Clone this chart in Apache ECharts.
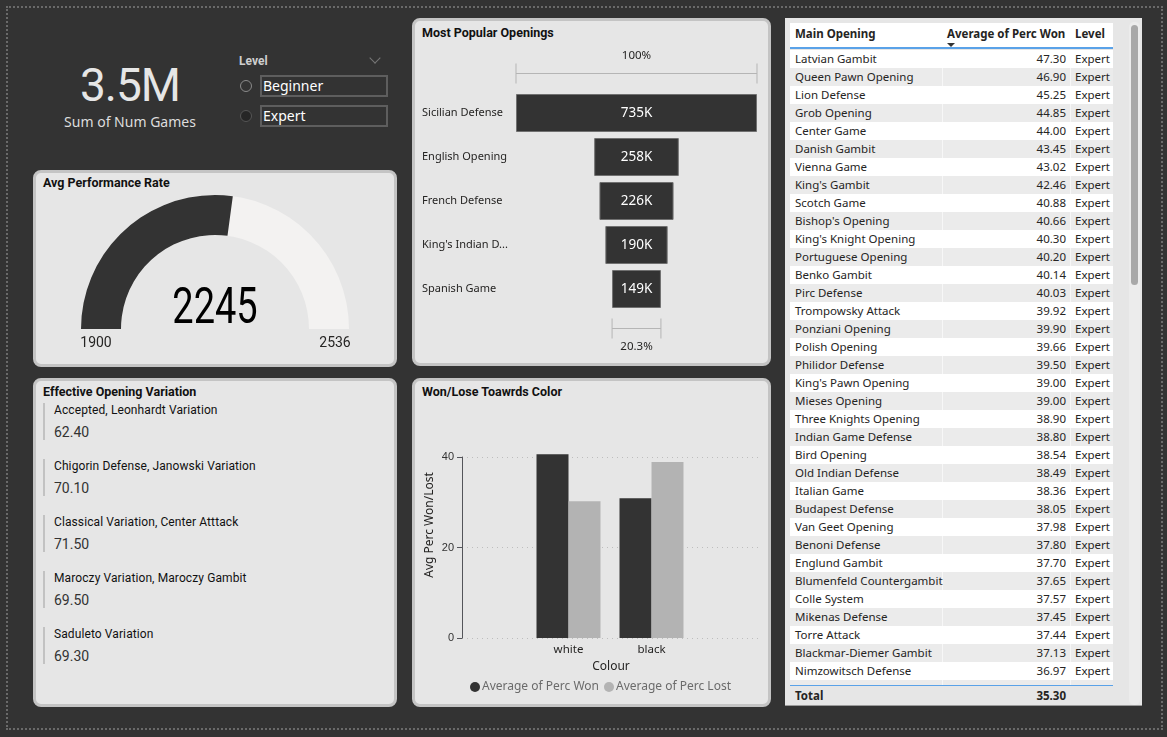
<!DOCTYPE html>
<html>
<head>
<meta charset="utf-8">
<title>Chess Openings Dashboard</title>
<script src="https://cdn.jsdelivr.net/npm/echarts@6/dist/echarts.min.js"></script>
<style>
  * { box-sizing: border-box; }
  body { margin: 0; width: 1167px; height: 737px; background: #333; position: relative; overflow: hidden; font-family: Roboto, "Noto Sans", sans-serif; }
  .abs { position: absolute; }
  .frame { left: 6px; top: 6px; width: 1157px; height: 724px; border: 2px dotted #6a6a6a; }
  .panel { background: #e6e6e6; border: 3px solid #c4c4c4; border-radius: 8px; }
  .title { font-weight: 700; font-size: 12.5px; color: #111; white-space: nowrap; }
  .kpi { left: 50px; width: 160px; text-align: center; color: #e6e6e6; }
  .radio { width: 12px; height: 12px; border-radius: 50%; border: 1px solid #8a8a8a; }
  .box { left: 260px; width: 128px; height: 22px; border: 2px solid #5e5e5e; color: #fff; font: 14px "Noto Sans", sans-serif; line-height: 18px; padding-left: 1px; }
  .varBar { left: 43px; width: 2px; height: 37px; background: #c2c2c2; }
  .varName { left: 54px; font-size: 12px; font-weight: 400; color: #111; white-space: nowrap; letter-spacing: 0.1px; }
  .varVal { left: 54px; font-size: 14px; color: #333; }
  .tbl { font: 11.5px "Noto Sans", sans-serif; color: #252423; }
  .row { position: absolute; left: 0; width: 323px; height: 18px; line-height: 18px; }
  .row span { position: absolute; top: 0; white-space: nowrap; }
  .c1 { left: 5px; }
  .c2 { right: 47px; text-align: right; }
  .c3 { left: 285px; }
  .sep { position: absolute; top: 0; width: 1px; height: 100%; background: rgba(255,255,255,0.6); }
</style>
</head>
<body>
<div class="abs frame"></div>

<!-- KPI + slicer -->
<div class="abs kpi" id="kpiValue" style="top:60px;font-size:46px;line-height:50px;letter-spacing:-1px;"></div>
<div class="abs kpi" style="top:113px;font-size:14px;line-height:18px;color:#ddd;font-family:'Noto Sans',sans-serif;">Sum of Num Games</div>
<div class="abs" style="left:239px;top:54px;font-size:12px;font-weight:700;color:#cfcfcf;">Level</div>
<div class="abs" style="left:371px;top:54px;width:8px;height:8px;border-right:1px solid #777;border-bottom:1px solid #777;transform:rotate(45deg);"></div>
<div class="abs radio" style="left:240px;top:80px;"></div>
<div class="abs radio" style="left:240px;top:110px;background:#262626;border-color:#555;"></div>
<div class="abs box" id="lvl0" style="top:75px;"></div>
<div class="abs box" id="lvl1" style="top:105px;"></div>

<!-- panels -->
<div class="abs panel" style="left:33px;top:170px;width:364px;height:197px;"></div>
<div class="abs panel" style="left:412px;top:18px;width:359px;height:348px;"></div>
<div class="abs panel" style="left:33px;top:378px;width:364px;height:329px;"></div>
<div class="abs panel" style="left:412px;top:378px;width:359px;height:329px;"></div>

<div class="abs title" style="left:43px;top:175px;">Avg Performance Rate</div>
<div class="abs title" style="left:422px;top:25px;">Most Popular Openings</div>
<div class="abs title" style="left:43px;top:384px;">Effective Opening Variation</div>
<div class="abs title" style="left:422px;top:384px;">Won/Lose Toawrds Color</div>

<div class="abs" id="gauge" style="left:33px;top:170px;width:364px;height:197px;"></div>
<div class="abs" id="funnel" style="left:412px;top:18px;width:359px;height:348px;"></div>
<div class="abs" id="bars" style="left:412px;top:378px;width:359px;height:329px;"></div>
<div id="variations"></div>

<!-- table -->
<div class="abs tbl" style="left:785px;top:18px;width:357px;height:688px;background:#e6e6e6;border-bottom:1px solid #9a9a9a;">
  <div class="abs" style="left:5px;top:5px;width:323px;height:26px;background:#fff;border-bottom:2px solid #5aa2e8;font-weight:700;">
    <span class="abs" style="left:5px;top:3px;">Main Opening</span>
    <span class="abs" style="left:157px;top:3px;">Average of Perc Won</span>
    <span class="abs" style="left:157px;top:20px;width:0;height:0;border-left:4px solid transparent;border-right:4px solid transparent;border-top:4px solid #333;"></span>
    <span class="abs" style="left:285px;top:3px;">Level</span>
  </div>
  <div class="abs" id="tbody" style="left:5px;top:32px;width:323px;height:635px;overflow:hidden;"></div>
  <div class="abs" style="left:5px;top:667px;width:323px;height:1px;background:#5aa2e8;"></div>
  <div class="abs" style="left:5px;top:669px;width:323px;height:18px;line-height:18px;font-weight:700;">
    <span class="abs" style="left:5px;">Total</span>
    <span class="abs" id="tTotal" style="right:47px;"></span>
  </div>
  <div class="abs" style="left:344px;top:4px;width:11px;height:683px;background:#ececec;border-radius:5px;"></div>
  <div class="abs" style="left:346px;top:7px;width:7px;height:260px;background:#a8a8a8;border-radius:4px;"></div>
</div>

<script>
// NOTE - data
const totalGames = '3.5M'
const levels = ['Beginner', 'Expert']

const perfMin = 1900
const perfMax = 2536
const perfValue = 2245

const openingNames = ['Sicilian Defense', 'English Opening', 'French Defense', "King's Indian Defense", 'Spanish Game']
const openingGames = [735000, 258000, 226000, 190000, 149000]

const variationNames = ['Accepted, Leonhardt Variation', 'Chigorin Defense, Janowski Variation', 'Classical Variation, Center Atttack', 'Maroczy Variation, Maroczy Gambit', 'Saduleto Variation']
const variationValues = [62.40, 70.10, 71.50, 69.50, 69.30]

const colours = ['white', 'black']
const percWon = [40.6, 30.9]
const percLost = [30.2, 38.9]

const tableOpenings = ['Latvian Gambit', 'Queen Pawn Opening', 'Lion Defense', 'Grob Opening', 'Center Game', 'Danish Gambit',
  'Vienna Game', "King's Gambit", 'Scotch Game', "Bishop's Opening", "King's Knight Opening", 'Portuguese Opening',
  'Benko Gambit', 'Pirc Defense', 'Trompowsky Attack', 'Ponziani Opening', 'Polish Opening', 'Philidor Defense',
  "King's Pawn Opening", 'Mieses Opening', 'Three Knights Opening', 'Indian Game Defense', 'Bird Opening',
  'Old Indian Defense', 'Italian Game', 'Budapest Defense', 'Van Geet Opening', 'Benoni Defense', 'Englund Gambit',
  'Blumenfeld Countergambit', 'Colle System', 'Mikenas Defense', 'Torre Attack', 'Blackmar-Diemer Gambit',
  'Nimzowitsch Defense', 'Clemenz Opening']
const tableWon = [47.30, 46.90, 45.25, 44.85, 44.00, 43.45, 43.02, 42.46, 40.88, 40.66, 40.30, 40.20, 40.14, 40.03,
  39.92, 39.90, 39.66, 39.50, 39.00, 39.00, 38.90, 38.80, 38.54, 38.49, 38.36, 38.05, 37.98, 37.80, 37.70, 37.65,
  37.57, 37.45, 37.44, 37.13, 36.97, 36.60]
const tableTotal = 35.30

// NOTE - KPI, slicer, list, table
document.querySelector('#kpiValue').innerHTML = totalGames
document.querySelector('#lvl0').innerHTML = levels[0]
document.querySelector('#lvl1').innerHTML = levels[1]

const varBox = document.querySelector('#variations')
variationNames.forEach((name, i) => {
  const y = 403 + i * 56
  varBox.innerHTML += `<div class="abs varBar" style="top:${y}px"></div>
    <div class="abs varName" style="top:${y}px">${name}</div>
    <div class="abs varVal" style="top:${y + 21}px">${variationValues[i].toFixed(2)}</div>`
})

const tbody = document.querySelector('#tbody')
tableOpenings.forEach((name, i) => {
  const bg = i % 2 === 0 ? '#ffffff' : '#ebebeb'
  tbody.innerHTML += `<div class="row" style="top:${i * 18}px;background:${bg}">
    <span class="sep" style="left:152px"></span><span class="sep" style="left:280px"></span>
    <span class="c1">${name}</span><span class="c2">${tableWon[i].toFixed(2)}</span><span class="c3">Expert</span></div>`
})
document.querySelector('#tTotal').innerHTML = tableTotal.toFixed(2)

// NOTE - gauge
const renderGauge = () => {
  const myChart = echarts.init(document.querySelector('#gauge'))
  const option = {
    animation: false,
    series: [
      {
        type: 'gauge',
        center: [182, 159],
        radius: 134,
        startAngle: 180,
        endAngle: 0,
        min: perfMin,
        max: perfMax,
        progress: { show: true, width: 40, itemStyle: { color: '#333333' } },
        axisLine: { lineStyle: { width: 40, color: [[1, '#f3f2f1']] } },
        pointer: { show: false },
        anchor: { show: false },
        axisTick: { show: false },
        splitLine: { show: false },
        axisLabel: { show: false },
        title: { show: false },
        detail: { show: false },
        data: [{ value: perfValue }]
      }
    ],
    graphic: [
      // condensed centre value (DIN-like look)
      { type: 'text', x: 182, y: 140, scaleX: 0.76, style: { text: String(perfValue), fill: '#000', fontSize: 50, fontFamily: 'Roboto', align: 'center', verticalAlign: 'middle' } },
      { type: 'text', x: 63, y: 173, style: { text: String(perfMin), fill: '#252423', fontSize: 14, fontFamily: 'Roboto', align: 'center', verticalAlign: 'middle' } },
      { type: 'text', x: 302, y: 173, style: { text: String(perfMax), fill: '#252423', fontSize: 14, fontFamily: 'Roboto', align: 'center', verticalAlign: 'middle' } }
    ]
  }
  myChart.setOption(option)
}

// NOTE - funnel (centered bars)
const renderFunnel = () => {
  const myChart = echarts.init(document.querySelector('#funnel'))
  const top = Math.max(...openingGames)
  const pads = openingGames.map(v => (top - v) / 2)
  const option = {
    animation: false,
    grid: { left: 104, right: 14, top: 73, height: 220 },
    xAxis: { type: 'value', min: 0, max: top, show: false },
    yAxis: {
      type: 'category',
      inverse: true,
      data: openingNames,
      axisLine: { show: false },
      axisTick: { show: false },
      axisLabel: {
        align: 'left', margin: 94, width: 92, overflow: 'truncate', ellipsis: '...',
        color: '#252423', fontSize: 11, fontFamily: '"Noto Sans", sans-serif'
      }
    },
    series: [
      { type: 'bar', stack: 'f', data: pads, barWidth: 38, silent: true, itemStyle: { color: 'transparent' } },
      {
        type: 'bar', stack: 'f', data: openingGames, barWidth: 38,
        itemStyle: { color: '#333333', borderColor: '#707070', borderWidth: 1 },
        label: {
          show: true, position: 'inside', color: '#fff', fontSize: 13.5, fontFamily: '"Noto Sans", sans-serif',
          formatter: p => Math.round(p.value / 1000) + 'K'
        }
      }
    ]
  }
  myChart.setOption(option)

  // brackets above and below
  const last = openingGames.length - 1
  const xa = myChart.convertToPixel({ gridIndex: 0 }, [0, 0])[0]
  const xb = myChart.convertToPixel({ gridIndex: 0 }, [top, 0])[0]
  const xc = myChart.convertToPixel({ gridIndex: 0 }, [pads[last], 0])[0]
  const xd = myChart.convertToPixel({ gridIndex: 0 }, [pads[last] + openingGames[last], 0])[0]
  const bracket = (x1, x2, y) => ([
    { type: 'line', shape: { x1, y1: y, x2, y2: y }, style: { stroke: '#b5b5b5', lineWidth: 1 } },
    { type: 'line', shape: { x1, y1: y - 10, x2: x1, y2: y + 10 }, style: { stroke: '#b5b5b5', lineWidth: 1 } },
    { type: 'line', shape: { x1: x2, y1: y - 10, x2, y2: y + 10 }, style: { stroke: '#b5b5b5', lineWidth: 1 } }
  ])
  const pct = (openingGames[last] / openingGames[0] * 100).toFixed(1) + '%'
  myChart.setOption({
    graphic: [
      ...bracket(xa, xb, 55.5),
      ...bracket(xc, xd, 310.5),
      { type: 'text', x: (xa + xb) / 2, y: 38, style: { text: '100%', fill: '#252423', fontSize: 11.5, fontFamily: '"Noto Sans", sans-serif', align: 'center', verticalAlign: 'middle' } },
      { type: 'text', x: (xc + xd) / 2, y: 329, style: { text: pct, fill: '#252423', fontSize: 11.5, fontFamily: '"Noto Sans", sans-serif', align: 'center', verticalAlign: 'middle' } }
    ]
  })
}

// NOTE - clustered bars
const renderBars = () => {
  const myChart = echarts.init(document.querySelector('#bars'))
  const axisFont = { color: '#252423', fontSize: 12, fontFamily: '"Noto Sans", sans-serif' }
  const option = {
    animation: false,
    grid: [
      { left: 50, right: 11, top: 79, height: 181 },
      { left: 115, width: 166, top: 79, height: 181 },
      { left: 50, right: 11, top: 34, height: 226 }
    ],
    legend: {
      left: 58, top: 303, icon: 'circle', itemWidth: 10, itemHeight: 10, itemGap: 5, padding: 0,
      textStyle: { color: '#6b6b6b', fontSize: 12, fontFamily: '"Noto Sans", sans-serif', padding: [0, 0, 0, -3] }
    },
    xAxis: [
      { gridIndex: 0, type: 'value', show: false },
      {
        gridIndex: 1, type: 'category', data: colours,
        axisLine: { show: false }, axisTick: { show: false },
        axisLabel: { ...axisFont, fontSize: 11.5, margin: 6 }
      },
      {
        gridIndex: 2, type: 'value', name: 'Colour', nameLocation: 'middle', nameGap: 23,
        nameTextStyle: axisFont,
        axisLine: { show: false }, axisTick: { show: false }, axisLabel: { show: false }, splitLine: { show: false }
      }
    ],
    yAxis: [
      {
        gridIndex: 0, type: 'value', min: 0, max: 40, interval: 20,
        axisLabel: { color: '#333', fontSize: 11, margin: 8 },
        splitLine: { lineStyle: { type: [1, 4], color: '#bdbdbd' } }
      },
      { gridIndex: 1, type: 'value', min: 0, max: 40, show: false },
      {
        gridIndex: 2, type: 'value', min: 0, max: 50, name: 'Avg Perc Won/Lost', nameLocation: 'middle', nameGap: 26,
        nameTextStyle: axisFont,
        axisLine: { show: false }, axisTick: { show: false }, axisLabel: { show: false }, splitLine: { show: false }
      }
    ],
    series: [
      { name: 'Average of Perc Won', type: 'bar', xAxisIndex: 1, yAxisIndex: 1, data: percWon, barWidth: 32, barGap: '0%', clip: false, itemStyle: { color: '#333333' } },
      { name: 'Average of Perc Lost', type: 'bar', xAxisIndex: 1, yAxisIndex: 1, data: percLost, barWidth: 32, barGap: '0%', clip: false, itemStyle: { color: '#b3b3b3' } }
    ]
  }
  myChart.setOption(option)
}

renderGauge()
renderFunnel()
renderBars()
</script>
</body>
</html>
